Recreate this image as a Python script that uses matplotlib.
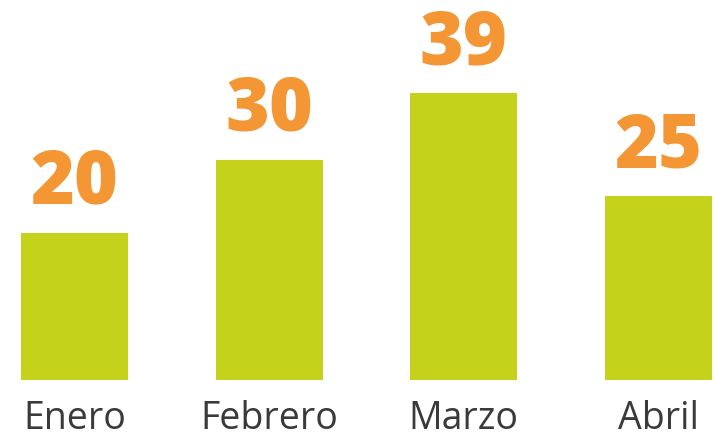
import matplotlib
matplotlib.use("Agg")
import matplotlib.pyplot as plt

categories = ["Enero", "Febrero", "Marzo", "Abril"]
values = [20, 30, 39, 25]

bar_color = "#C5D21C"
label_color = "#F39633"
text_color = "#3A3A3A"

W, H = 715, 439
fig = plt.figure(figsize=(W / 100, H / 100), dpi=100)
base_px = 58
ax = fig.add_axes([0, base_px / H, 1, 1 - base_px / H])

step = 194.67
x0 = 74.5
x = list(range(len(categories)))
ax.bar(x, values, width=107 / step, color=bar_color)
ax.set_xlim((0 - x0) / step, (W - x0) / step)
ax.set_ylim(0, (H - base_px) / 7.35)

for xi, v in zip(x, values):
    ax.annotate(str(v), (xi, v), xytext=(0, 30), textcoords="offset pixels",
                ha="center", va="baseline", fontsize=54, fontweight=800,
                family="Open Sans", color=label_color)

ax.set_xticks(x)
ax.set_xticklabels(categories, fontsize=27, family="Open Sans", fontweight=500,
                   color=text_color)
ax.tick_params(axis="x", length=0, pad=14)
ax.set_yticks([])
for s in ax.spines.values():
    s.set_visible(False)

fig.savefig("out.png", dpi=100, facecolor="white")
